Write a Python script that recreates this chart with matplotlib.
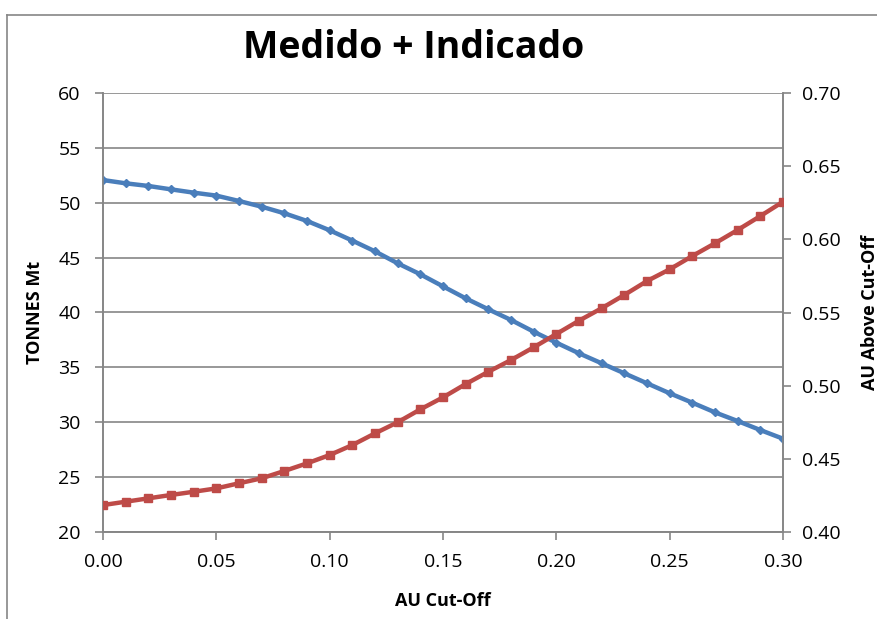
import matplotlib.pyplot as plt
from matplotlib.lines import Line2D

plt.rcParams['font.family'] = ['Open Sans', 'DejaVu Sans']

# cut-off grades and the two series read per grade
cutoff = [0.00, 0.01, 0.02, 0.03, 0.04, 0.05, 0.06, 0.07, 0.08, 0.09, 0.10,
          0.11, 0.12, 0.13, 0.14, 0.15, 0.16, 0.17, 0.18, 0.19, 0.20,
          0.21, 0.22, 0.23, 0.24, 0.25, 0.26, 0.27, 0.28, 0.29, 0.30]
tonnes = [52.07, 51.77, 51.53, 51.22, 50.92, 50.65, 50.16, 49.64, 49.04, 48.34, 47.49,
          46.55, 45.57, 44.48, 43.48, 42.38, 41.29, 40.29, 39.32, 38.25, 37.25,
          36.28, 35.37, 34.46, 33.55, 32.64, 31.78, 30.90, 30.11, 29.29, 28.50]
grade_above = [0.4184, 0.4207, 0.4230, 0.4253, 0.4275, 0.4298, 0.4333, 0.4367, 0.4417, 0.4469, 0.4526,
               0.4594, 0.4674, 0.4750, 0.4838, 0.4920, 0.5011, 0.5095, 0.5175, 0.5262, 0.5353,
               0.5444, 0.5529, 0.5620, 0.5715, 0.5795, 0.5886, 0.5973, 0.6064, 0.6159, 0.6257]

left_ticks = [20, 25, 30, 35, 40, 45, 50, 55, 60]
right_ticks = [0.40, 0.45, 0.50, 0.55, 0.60, 0.65, 0.70]
x_ticks = [0.00, 0.05, 0.10, 0.15, 0.20, 0.25, 0.30]

grey = '#868686'
blue = '#4A7EBB'
red = '#BE4B48'

fig = plt.figure(figsize=(8.77, 6.19), dpi=100)
ax = fig.add_axes([103/877, 1 - 532/619, 680/877, 439/619])
ax2 = ax.twinx()

# chart frame (runs off the right and bottom edges)
fig.add_artist(Line2D([7/877, 7/877], [-0.1, 1 - 15/619], transform=fig.transFigure,
                      color=grey, lw=1.2))
fig.add_artist(Line2D([7/877, 1.1], [1 - 15/619, 1 - 15/619], transform=fig.transFigure,
                      color=grey, lw=1.2))

ax.plot(cutoff, tonnes, color=blue, lw=3.2, marker='D', ms=4.5, zorder=3)
ax2.plot(cutoff, grade_above, color=red, lw=3.2, marker='s', ms=6, zorder=3)

ax.set_xlim(0, 0.30)
ax.set_ylim(20, 60)
ax2.set_ylim(0.40, 0.70)
ax.set_xticks(x_ticks)
ax.set_xticklabels([f'{v:.2f}' for v in x_ticks])
ax.set_yticks(left_ticks)
ax2.set_yticks(right_ticks)
ax2.set_yticklabels([f'{v:.2f}' for v in right_ticks])

ax.grid(axis='y', color=grey, lw=1.2)
ax.set_axisbelow(True)
for a in (ax, ax2):
    a.spines['top'].set_visible(False)
    for s in ('left', 'right', 'bottom'):
        a.spines[s].set_color(grey)
        a.spines[s].set_linewidth(1.2)
    a.tick_params(colors=grey, labelcolor='black', labelsize=14, length=6, width=1.2)
ax.tick_params(axis='x', pad=9)
ax.tick_params(axis='y', pad=10)
ax2.tick_params(axis='y', pad=8)

ax.set_xlabel('AU Cut-Off', fontsize=13, fontweight='bold', labelpad=15)
ax.set_ylabel('TONNES Mt', fontsize=13, fontweight='bold', labelpad=10)
ax2.set_ylabel('AU Above Cut-Off', fontsize=13, fontweight='bold', rotation=90, labelpad=14)

fig.text(414/877, 1 - 48/619, 'Medido + Indicado', ha='center', va='center',
         fontsize=27, fontweight='bold')

fig.savefig('out.png', dpi=100)
